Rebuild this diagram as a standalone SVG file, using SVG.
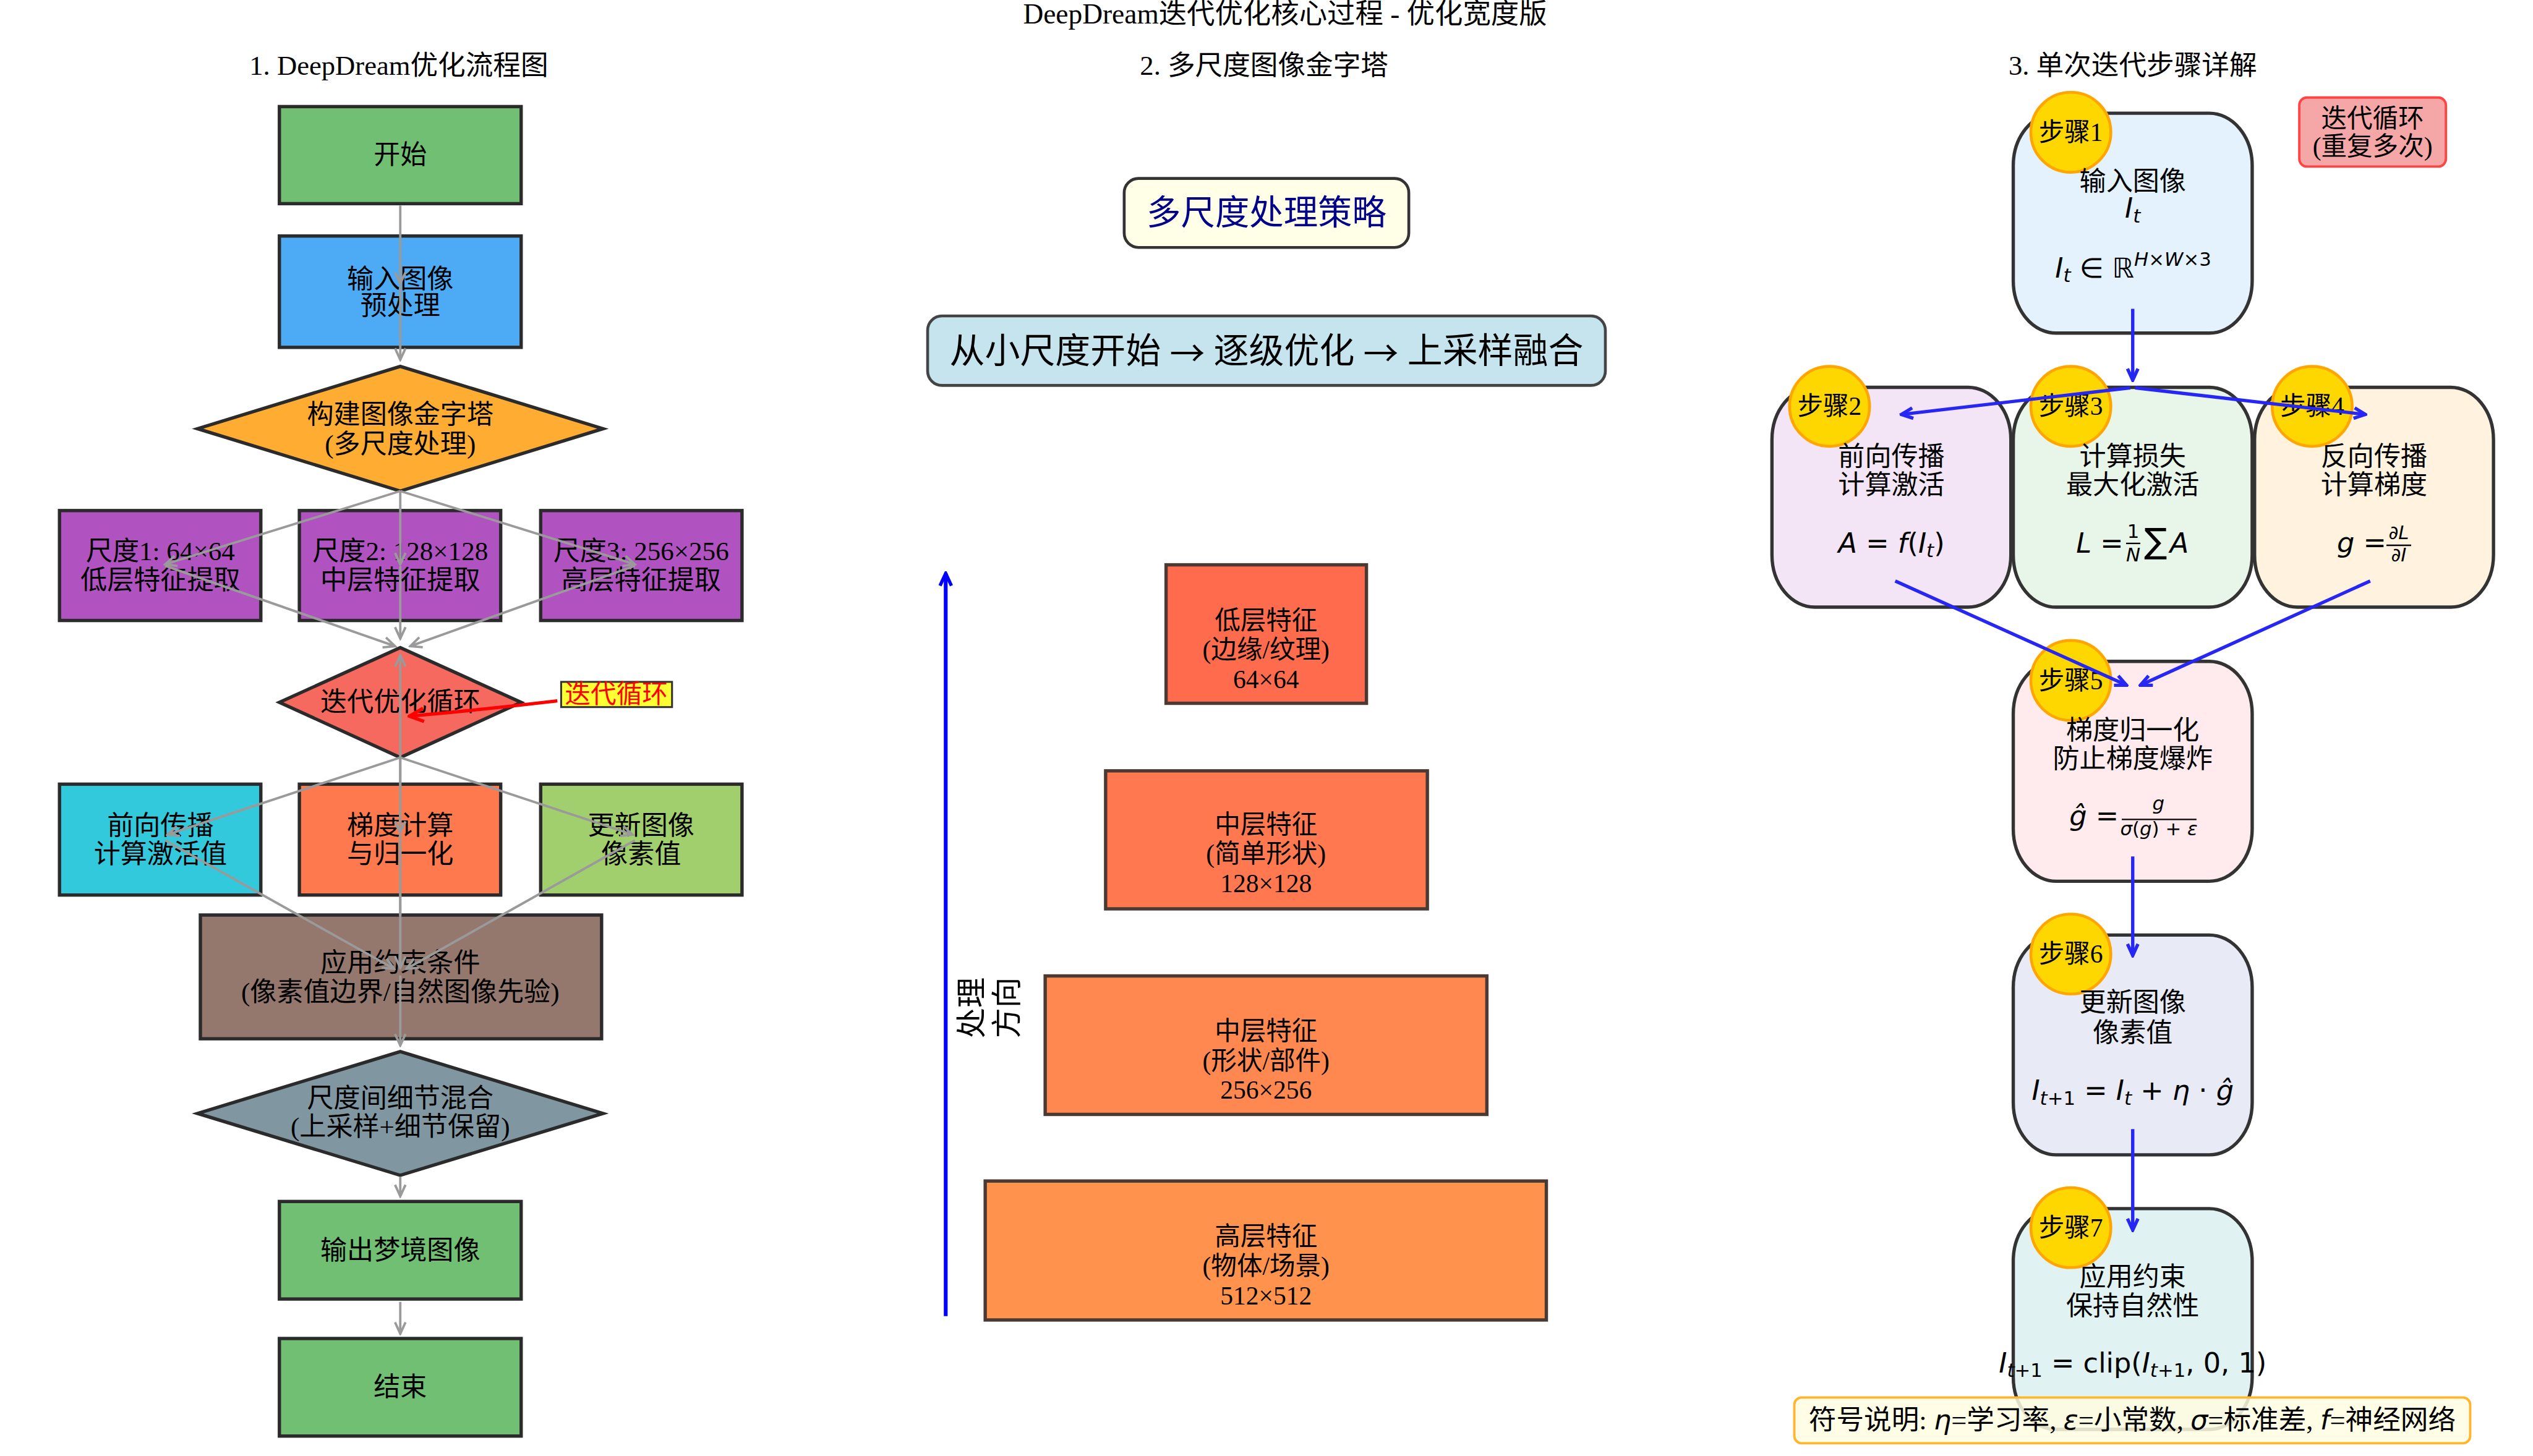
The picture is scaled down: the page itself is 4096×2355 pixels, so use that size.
<svg xmlns="http://www.w3.org/2000/svg" width="4096" height="2355" viewBox="0 0 4096 2355">
<defs>
<style>
.t{font-family:'Liberation Serif','Noto Sans CJK SC',serif;font-size:56px;text-anchor:middle;dominant-baseline:central;fill:#000}
.tb{font-family:'Liberation Serif','Noto Sans CJK SC',serif;fill:#000;text-anchor:middle}
.box{stroke:#2b2b2b;stroke-width:7}
.pbox{stroke:#4a3a33;stroke-width:7}
.sbox{stroke:#333;stroke-width:7}
.g{stroke:#9a9a9a;stroke-width:5;fill:none;marker-end:url(#ag)}
.b{stroke:#2626f5;stroke-width:7;fill:none;marker-end:url(#ab)}
.m{font-family:'DejaVu Sans',sans-serif;font-style:italic;font-size:58px;fill:#000}
.n{font-style:normal}
.s40{font-size:40px}
.arw{font-family:'Noto Sans CJK SC',sans-serif}
.step{fill:#FFD700;stroke:#FFA500;stroke-width:6}
</style>
<marker id="ag" viewBox="-30 -16 34 32" markerWidth="34" markerHeight="32" refX="0" refY="0" orient="auto" markerUnits="userSpaceOnUse"><path d="M-24,-11 L0,0 L-24,11" fill="none" stroke="#9a9a9a" stroke-width="5"/></marker>
<marker id="ab" viewBox="-30 -16 34 32" markerWidth="34" markerHeight="32" refX="0" refY="0" orient="auto" markerUnits="userSpaceOnUse"><path d="M-24,-11 L0,0 L-24,11" fill="none" stroke="#2626f5" stroke-width="7"/></marker>
<marker id="abl" viewBox="-30 -16 34 32" markerWidth="34" markerHeight="32" refX="0" refY="0" orient="auto" markerUnits="userSpaceOnUse"><path d="M-26,-12 L0,0 L-26,12" fill="none" stroke="#0000ff" stroke-width="7"/></marker>
<marker id="ar" viewBox="-40 -20 44 40" markerWidth="44" markerHeight="40" refX="0" refY="0" orient="auto" markerUnits="userSpaceOnUse"><path d="M-30,-14 L0,0 L-30,14" fill="none" stroke="#ff0000" stroke-width="7"/></marker>
</defs>
<rect width="4096" height="2355" fill="#fff"/>
<g transform="scale(0.769635)">
<g id="titles">
<text class="tb" x="2700" y="50" style="font-size:59px">DeepDream迭代优化核心过程 - 优化宽度版</text>
<text class="tb" x="838" y="157" style="font-size:58px">1. DeepDream优化流程图</text>
<text class="tb" x="2656" y="157" style="font-size:58px">2. 多尺度图像金字塔</text>
<text class="tb" x="4481" y="157" style="font-size:58px">3. 单次迭代步骤详解</text>
</g>

<!-- Column 1 -->
<g id="n-start"><rect class="box" x="587" y="224" width="508" height="204" fill="#70BF73"/><text class="t" x="841" y="326">开始</text></g>
<g id="n-pre"><rect class="box" x="587" y="496" width="508" height="234" fill="#4DABF5"/><text class="t" x="841" y="586">输入图像</text><text class="t" x="841" y="642">预处理</text></g>
<g id="n-pyramid"><polygon class="box" points="841,770 1267,901 841,1032 415,901" fill="#FFAC33"/><text class="t" x="841" y="871">构建图像金字塔</text><text class="t" x="841" y="933">(多尺度处理)</text></g>
<g id="n-scale1"><rect class="box" x="125" y="1073" width="423" height="231" fill="#B052C0"/><text class="t" x="337" y="1158">尺度1: 64×64</text><text class="t" x="337" y="1219">低层特征提取</text></g>
<g id="n-scale2"><rect class="box" x="629" y="1073" width="423" height="231" fill="#B052C0"/><text class="t" x="841" y="1158">尺度2: 128×128</text><text class="t" x="841" y="1219">中层特征提取</text></g>
<g id="n-scale3"><rect class="box" x="1136" y="1073" width="423" height="231" fill="#B052C0"/><text class="t" x="1347" y="1158">尺度3: 256×256</text><text class="t" x="1347" y="1219">高层特征提取</text></g>
<g id="n-loop"><polygon class="box" points="841,1361 1095,1476 841,1592 587,1476" fill="#F6695E"/><text class="t" x="841" y="1476">迭代优化循环</text></g>
<g id="n-fwd"><rect class="box" x="125" y="1648" width="423" height="233" fill="#33C9DD"/><text class="t" x="337" y="1735">前向传播</text><text class="t" x="337" y="1795">计算激活值</text></g>
<g id="n-grad"><rect class="box" x="629" y="1648" width="423" height="233" fill="#FF794E"/><text class="t" x="841" y="1735">梯度计算</text><text class="t" x="841" y="1795">与归一化</text></g>
<g id="n-upd"><rect class="box" x="1136" y="1648" width="423" height="233" fill="#A2CF6E"/><text class="t" x="1347" y="1735">更新图像</text><text class="t" x="1347" y="1795">像素值</text></g>
<g id="n-constraint"><rect class="box" x="421" y="1923" width="843" height="260" fill="#94776D"/><text class="t" x="841" y="2024">应用约束条件</text><text class="t" x="841" y="2085">(像素值边界/自然图像先验)</text></g>
<g id="n-mix"><polygon class="box" points="841,2210 1267,2340 841,2470 415,2340" fill="#8097A2"/><text class="t" x="841" y="2308">尺度间细节混合</text><text class="t" x="841" y="2368">(上采样+细节保留)</text></g>
<g id="n-output"><rect class="box" x="587" y="2525" width="508" height="205" fill="#70BF73"/><text class="t" x="841" y="2628">输出梦境图像</text></g>
<g id="n-end"><rect class="box" x="587" y="2813" width="508" height="205" fill="#70BF73"/><text class="t" x="841" y="2915">结束</text></g>
<g id="n-looplabel"><rect x="1179" y="1433" width="233" height="53" fill="#FFFF33" stroke="#333" stroke-width="4"/><text class="t" x="1295" y="1459" style="font-size:54px;fill:#ff0000">迭代循环</text></g>

<g id="connectors-col1">
<line class="g" x1="841" y1="432" x2="841" y2="596"/>
<line class="g" x1="841" y1="600" x2="841" y2="756"/>
<line class="g" x1="841" y1="1032" x2="347" y2="1186"/>
<line class="g" x1="841" y1="1032" x2="841" y2="1186"/>
<line class="g" x1="841" y1="1032" x2="1334" y2="1186"/>
<line class="g" x1="347" y1="1189" x2="830" y2="1358"/>
<line class="g" x1="841" y1="1190" x2="841" y2="1342"/>
<line class="g" x1="1334" y1="1189" x2="862" y2="1358"/>
<line class="g" x1="841" y1="1925" x2="841" y2="1377"/>
<line class="g" x1="841" y1="1592" x2="352" y2="1754"/>
<line class="g" x1="841" y1="1592" x2="841" y2="1750"/>
<line class="g" x1="841" y1="1592" x2="1329" y2="1754"/>
<line class="g" x1="347" y1="1766" x2="828" y2="2036"/>
<line class="g" x1="841" y1="1766" x2="841" y2="2034"/>
<line class="g" x1="1334" y1="1766" x2="854" y2="2036"/>
<line class="g" x1="841" y1="2050" x2="841" y2="2197"/>
<line class="g" x1="841" y1="2473" x2="841" y2="2514"/>
<line class="g" x1="841" y1="2736" x2="841" y2="2803"/>
<path d="M1171,1473 Q1010,1492 860,1505" fill="none" stroke="#ff0000" stroke-width="7" marker-end="url(#ar)"/>
</g>

<!-- Column 2 -->
<g id="n-strategy-title"><rect x="2362" y="375" width="598" height="145" rx="30" fill="#FFFEE6" stroke="#333" stroke-width="6"/><text class="t" x="2661" y="447" style="font-size:72px;fill:#00008B">多尺度处理策略</text></g>
<g id="n-strategy"><rect x="1949" y="664" width="1424" height="146" rx="30" fill="#C6E4EE" stroke="#444" stroke-width="6"/><text class="t" x="2661" y="737" style="font-size:74px">从小尺度开始 <tspan class="arw">→</tspan> 逐级优化 <tspan class="arw">→</tspan> 上采样融合</text></g>
<g id="n-level1"><rect class="pbox" x="2450" y="1187" width="421" height="291" fill="#FF6B4D"/><text class="t" x="2660" y="1304" style="font-size:54px">低层特征</text><text class="t" x="2660" y="1366" style="font-size:54px">(边缘/纹理)</text><text class="t" x="2660" y="1428" style="font-size:54px">64×64</text></g>
<g id="n-level2"><rect class="pbox" x="2323" y="1620" width="676" height="290" fill="#FF7850"/><text class="t" x="2660" y="1733" style="font-size:54px">中层特征</text><text class="t" x="2660" y="1795" style="font-size:54px">(简单形状)</text><text class="t" x="2660" y="1857" style="font-size:54px">128×128</text></g>
<g id="n-level3"><rect class="pbox" x="2196" y="2051" width="928" height="291" fill="#FF8750"/><text class="t" x="2660" y="2167" style="font-size:54px">中层特征</text><text class="t" x="2660" y="2229" style="font-size:54px">(形状/部件)</text><text class="t" x="2660" y="2291" style="font-size:54px">256×256</text></g>
<g id="n-level4"><rect class="pbox" x="2070" y="2482" width="1179" height="292" fill="#FF924D"/><text class="t" x="2660" y="2599" style="font-size:54px">高层特征</text><text class="t" x="2660" y="2661" style="font-size:54px">(物体/场景)</text><text class="t" x="2660" y="2723" style="font-size:54px">512×512</text></g>
<g id="connectors-col2">
<line x1="1987" y1="2766" x2="1987" y2="1205" stroke="#0000ff" stroke-width="8" marker-end="url(#abl)"/>
</g>
<g id="direction-label" transform="translate(2079,2118) rotate(-90)"><text class="t" x="0" y="-37" style="font-size:64px">处理</text><text class="t" x="0" y="37" style="font-size:64px">方向</text></g>

<!-- Column 3 -->
<g id="n-iterlabel"><rect x="4831" y="205" width="308" height="145" rx="16" fill="#F5A6A6" stroke="#F44" stroke-width="5"/><text class="t" x="4985" y="249" style="font-size:54px">迭代循环</text><text class="t" x="4985" y="308" style="font-size:54px">(重复多次)</text></g>

<g id="n-step1"><rect class="sbox" x="4230" y="238" width="502" height="462" rx="90" ry="110" fill="#E3F2FD"/><ellipse class="step" cx="4351" cy="278" rx="84" ry="84"/><text class="t" x="4351" y="278" style="font-size:54px">步骤1</text>
<text class="t" x="4481" y="381">输入图像</text>
<text class="m" x="4481" y="458" text-anchor="middle">I<tspan class="s40" dy="10">t</tspan></text>
<text class="m" x="4482" y="583" text-anchor="middle">I<tspan class="s40" dy="10">t</tspan><tspan class="n" dy="-10"> ∈ ℝ</tspan><tspan class="s40" dy="-24">H</tspan><tspan class="n s40">×</tspan><tspan class="s40">W</tspan><tspan class="n s40">×3</tspan></text></g>

<g id="n-step2"><rect class="sbox" x="3723" y="814" width="502" height="462" rx="90" ry="110" fill="#F3E5F5"/><ellipse class="step" cx="3844" cy="854" rx="84" ry="84"/><text class="t" x="3844" y="854" style="font-size:54px">步骤2</text>
<text class="t" x="3974" y="960">前向传播</text><text class="t" x="3974" y="1019">计算激活</text>
<text class="m" x="3974" y="1161" text-anchor="middle">A<tspan class="n"> = </tspan>f<tspan class="n">(</tspan>I<tspan class="s40" dy="10">t</tspan><tspan class="n" dy="-10">)</tspan></text></g>

<g id="n-step3"><rect class="sbox" x="4230" y="814" width="502" height="462" rx="90" ry="110" fill="#E8F5E9"/><ellipse class="step" cx="4351" cy="854" rx="84" ry="84"/><text class="t" x="4351" y="854" style="font-size:54px">步骤3</text>
<text class="t" x="4481" y="960">计算损失</text><text class="t" x="4481" y="1019">最大化激活</text>
<text class="m" x="4362" y="1161">L<tspan class="n"> =</tspan></text>
<text class="m n s40" x="4482" y="1131" text-anchor="middle">1</text>
<line x1="4467" y1="1142" x2="4497" y2="1142" stroke="#000" stroke-width="3"/>
<text class="m s40" x="4482" y="1180" text-anchor="middle">N</text>
<text class="m n" x="4505" y="1162" style="font-size:72px">∑</text>
<text class="m" x="4559" y="1161">A</text></g>

<g id="n-step4"><rect class="sbox" x="4737" y="814" width="502" height="462" rx="90" ry="110" fill="#FFF3E0"/><ellipse class="step" cx="4858" cy="854" rx="84" ry="84"/><text class="t" x="4858" y="854" style="font-size:54px">步骤4</text>
<text class="t" x="4988" y="960">反向传播</text><text class="t" x="4988" y="1019">计算梯度</text>
<text class="m" x="4910" y="1160">g<tspan class="n"> =</tspan></text>
<text class="m s40" x="5040" y="1133" text-anchor="middle">∂L</text>
<line x1="5014" y1="1146" x2="5066" y2="1146" stroke="#000" stroke-width="3"/>
<text class="m s40" x="5040" y="1180" text-anchor="middle">∂I</text></g>

<g id="n-step5"><rect class="sbox" x="4230" y="1390" width="502" height="462" rx="90" ry="110" fill="#FFEBEE"/><ellipse class="step" cx="4351" cy="1430" rx="84" ry="84"/><text class="t" x="4351" y="1430" style="font-size:54px">步骤5</text>
<text class="t" x="4481" y="1535">梯度归一化</text><text class="t" x="4481" y="1595">防止梯度爆炸</text>
<text class="m" x="4348" y="1735">ĝ<tspan class="n"> =</tspan></text>
<text class="m s40" x="4535" y="1702" text-anchor="middle">g</text>
<line x1="4458" y1="1722" x2="4615" y2="1722" stroke="#000" stroke-width="3"/>
<text class="m s40" x="4536" y="1756" text-anchor="middle">σ<tspan class="n">(</tspan>g<tspan class="n">) + </tspan>ε</text></g>

<g id="n-step6"><rect class="sbox" x="4230" y="1965" width="502" height="462" rx="90" ry="110" fill="#E8EAF6"/><ellipse class="step" cx="4351" cy="2005" rx="84" ry="84"/><text class="t" x="4351" y="2005" style="font-size:54px">步骤6</text>
<text class="t" x="4481" y="2107">更新图像</text><text class="t" x="4481" y="2170">像素值</text>
<text class="m" x="4481" y="2312" text-anchor="middle">I<tspan class="s40" dy="10">t</tspan><tspan class="n s40">+1</tspan><tspan class="n" dy="-10"> = </tspan>I<tspan class="s40" dy="10">t</tspan><tspan class="n" dy="-10"> + </tspan>η<tspan class="n"> · </tspan>ĝ</text></g>

<g id="n-step7"><rect class="sbox" x="4230" y="2540" width="502" height="464" rx="90" ry="110" fill="#E0F2F1"/><ellipse class="step" cx="4351" cy="2580" rx="84" ry="84"/><text class="t" x="4351" y="2580" style="font-size:54px">步骤7</text>
<text class="t" x="4481" y="2684">应用约束</text><text class="t" x="4481" y="2745">保持自然性</text>
<text class="m" x="4481" y="2884" text-anchor="middle">I<tspan class="s40" dy="10">t</tspan><tspan class="n s40">+1</tspan><tspan class="n" dy="-10"> = clip(</tspan>I<tspan class="s40" dy="10">t</tspan><tspan class="n s40">+1</tspan><tspan class="n" dy="-10">, 0, 1)</tspan></text></g>

<g id="connectors-col3">
<line class="b" x1="4481" y1="649" x2="4481" y2="799"/>
<line class="b" x1="4476" y1="815" x2="3995" y2="871"/>
<line class="b" x1="4486" y1="815" x2="4970" y2="871"/>
<line class="b" x1="3982" y1="1221" x2="4468" y2="1440"/>
<line class="b" x1="4980" y1="1221" x2="4497" y2="1440"/>
<line class="b" x1="4481" y1="1800" x2="4481" y2="2008"/>
<line class="b" x1="4481" y1="2373" x2="4481" y2="2585"/>
</g>

<g id="legend"><rect x="3770" y="2937" width="1420" height="96" rx="15" fill="#FFFDE0" fill-opacity="0.85" stroke="#FFB52E" stroke-width="5"/>
<text class="t" x="4480" y="2985" style="font-size:58px">符号说明: <tspan font-family="DejaVu Sans" font-style="italic">η</tspan>=学习率, <tspan font-family="DejaVu Sans" font-style="italic">ε</tspan>=小常数, <tspan font-family="DejaVu Sans" font-style="italic">σ</tspan>=标准差, <tspan font-family="DejaVu Sans" font-style="italic">f</tspan>=神经网络</text></g>
</g>
</svg>
